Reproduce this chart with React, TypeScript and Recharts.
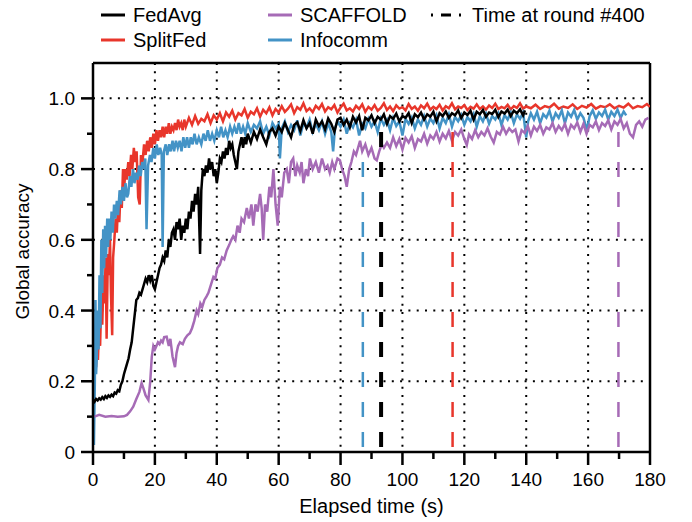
import React from 'react';
import { LineChart, Line, XAxis, YAxis, CartesianGrid, ReferenceLine, Label } from 'recharts';

// [elapsed time (s), global accuracy]
const fedAvg: [number, number][] = [
  [0, 0.148], [0.5, 0.142], [1, 0.15], [1.5, 0.146], [2, 0.152], [2.5, 0.148], [3, 0.155], [3.5, 0.15], [4, 0.158],
  [4.5, 0.153], [5, 0.16], [5.5, 0.156], [6, 0.162], [6.5, 0.158], [7, 0.168], [7.5, 0.165], [8, 0.175], [8.5, 0.172],
  [9, 0.19], [9.5, 0.2], [10, 0.22], [10.5, 0.235], [11, 0.25], [11.5, 0.265], [12, 0.29], [12.5, 0.31], [13, 0.35],
  [13.5, 0.39], [14, 0.43], [14.5, 0.435], [15, 0.45], [15.5, 0.445], [16, 0.46], [16.5, 0.475], [17, 0.49], [17.5, 0.48],
  [18, 0.5], [18.5, 0.485], [19, 0.5], [19.5, 0.47], [20, 0.46], [20.5, 0.48], [21, 0.5], [21.5, 0.52], [22, 0.53],
  [22.5, 0.55], [23, 0.54], [23.5, 0.57], [24, 0.55], [24.5, 0.6], [25, 0.58], [25.5, 0.62], [26, 0.63], [26.5, 0.6],
  [27, 0.65], [27.5, 0.63], [28, 0.66], [28.5, 0.6], [29, 0.64], [29.5, 0.62], [30, 0.66], [30.5, 0.63], [31, 0.68],
  [31.5, 0.66], [32, 0.71], [32.5, 0.68], [33, 0.73], [33.5, 0.7], [34, 0.75], [34.6, 0.56], [35, 0.74], [35.5, 0.8],
  [36, 0.78], [36.5, 0.81], [37, 0.79], [37.5, 0.83], [38, 0.8], [38.5, 0.82], [39, 0.78], [39.5, 0.8], [40, 0.76],
  [40.5, 0.79], [41, 0.83], [41.5, 0.82], [42, 0.85], [42.5, 0.83], [43, 0.86], [43.5, 0.84], [44, 0.88], [44.5, 0.86],
  [45, 0.87], [45.5, 0.84], [46, 0.82], [46.5, 0.8], [47, 0.85], [47.5, 0.87], [48, 0.89], [48.5, 0.86], [49, 0.89],
  [49.5, 0.87], [50, 0.9], [51, 0.875], [52, 0.905], [53, 0.885], [54, 0.912], [55, 0.89], [56, 0.87], [57, 0.905],
  [58, 0.915], [59, 0.895], [60, 0.92], [61, 0.905], [62, 0.93], [63, 0.91], [64, 0.89], [65, 0.925], [66, 0.932],
  [67, 0.908], [68, 0.938], [69, 0.915], [70, 0.93], [71, 0.9], [72, 0.94], [73, 0.922], [74, 0.935], [75, 0.912],
  [76, 0.943], [77, 0.928], [78, 0.905], [79, 0.94], [80, 0.945], [81, 0.925], [82, 0.94], [83, 0.918], [84, 0.948],
  [85, 0.932], [86, 0.95], [87, 0.91], [88, 0.945], [89, 0.938], [90, 0.952], [91, 0.93], [92, 0.948], [93, 0.94],
  [94, 0.955], [95, 0.928], [96, 0.95], [97, 0.942], [98, 0.957], [99, 0.935], [100, 0.95], [101, 0.945], [102, 0.958],
  [103, 0.93], [104, 0.955], [105, 0.947], [106, 0.96], [107, 0.94], [108, 0.955], [109, 0.948], [110, 0.962],
  [111, 0.935], [112, 0.958], [113, 0.95], [114, 0.963], [115, 0.945], [116, 0.958], [117, 0.952], [118, 0.966],
  [119, 0.944], [120, 0.96], [121, 0.953], [122, 0.965], [123, 0.94], [124, 0.962], [125, 0.955], [126, 0.967],
  [127, 0.948], [128, 0.96], [129, 0.956], [130, 0.968], [131, 0.947], [132, 0.963], [133, 0.957], [134, 0.968],
  [135, 0.95], [136, 0.965], [137, 0.958], [138, 0.969], [139, 0.952], [139.6, 0.966],
];

const splitFed: [number, number][] = [
  [1.0, 0.24], [1.3, 0.31], [1.6, 0.26], [2.0, 0.37], [2.3, 0.3], [2.7, 0.44], [3.0, 0.36], [3.4, 0.5], [3.7, 0.42],
  [4.1, 0.55], [4.4, 0.32], [4.8, 0.56], [5.1, 0.5], [5.5, 0.6], [5.8, 0.45], [6.2, 0.33], [6.5, 0.55], [6.9, 0.6],
  [7.3, 0.66], [7.7, 0.62], [8.1, 0.7], [8.5, 0.65], [8.9, 0.74], [9.3, 0.69], [9.7, 0.8], [10.1, 0.75], [10.5, 0.8],
  [10.9, 0.77], [11.4, 0.82], [11.8, 0.78], [12.3, 0.84], [12.7, 0.8], [13.2, 0.86], [13.6, 0.82], [14.1, 0.85],
  [14.6, 0.72], [15.1, 0.7], [15.5, 0.84], [16, 0.82], [16.5, 0.87], [17, 0.84], [17.5, 0.88], [18, 0.85], [18.5, 0.89],
  [19, 0.86], [19.5, 0.9], [20, 0.87], [20.5, 0.91], [21, 0.88], [21.5, 0.91], [22, 0.89], [22.5, 0.92], [23, 0.89],
  [23.5, 0.92], [24, 0.9], [24.5, 0.93], [25, 0.9], [25.5, 0.92], [26, 0.91], [26.5, 0.93], [27, 0.91], [27.5, 0.94],
  [28, 0.92], [28.5, 0.93], [29, 0.91], [29.5, 0.94], [30, 0.92], [31, 0.945], [32, 0.925], [33, 0.95], [34, 0.928],
  [35, 0.942], [36, 0.935], [37, 0.955], [38, 0.93], [39, 0.952], [40, 0.94], [41, 0.958], [42, 0.935], [43, 0.96],
  [44, 0.948], [45, 0.965], [46, 0.94], [47, 0.958], [48, 0.952], [49, 0.97], [50, 0.945], [51, 0.962], [52, 0.955],
  [53, 0.972], [54, 0.948], [55, 0.968], [56, 0.958], [57, 0.975], [58, 0.952], [59, 0.97], [60, 0.96], [61, 0.978],
  [62, 0.962], [63, 0.971], [64, 0.983], [65, 0.958], [66, 0.975], [67, 0.968], [68, 0.986], [69, 0.964], [70, 0.972],
  [71, 0.961], [72, 0.979], [73, 0.97], [74, 0.984], [75, 0.963], [76, 0.975], [77, 0.969], [78, 0.981], [79, 0.96],
  [80, 0.974], [81, 0.985], [82, 0.966], [83, 0.972], [84, 0.963], [85, 0.979], [86, 0.97], [87, 0.983], [88, 0.962],
  [89, 0.976], [90, 0.968], [91, 0.981], [92, 0.965], [93, 0.973], [94, 0.986], [95, 0.967], [96, 0.977], [97, 0.964],
  [98, 0.98], [99, 0.971], [100, 0.975], [101, 0.966], [102, 0.984], [103, 0.97], [104, 0.977], [105, 0.965],
  [106, 0.98], [107, 0.972], [108, 0.985], [109, 0.968], [110, 0.976], [111, 0.97], [112, 0.982], [113, 0.966],
  [114, 0.978], [115, 0.972], [116, 0.986], [117, 0.969], [118, 0.977], [119, 0.973], [120, 0.981], [121, 0.967],
  [122, 0.976], [123, 0.971], [124, 0.983], [125, 0.97], [126, 0.977], [127, 0.968], [128, 0.98], [129, 0.973],
  [130, 0.985], [131, 0.97], [132, 0.976], [133, 0.972], [134, 0.982], [135, 0.969], [136, 0.978], [137, 0.973],
  [138, 0.986], [139, 0.971], [140, 0.977], [141.5, 0.972], [143, 0.982], [144.5, 0.97], [146, 0.978], [147.5, 0.974],
  [149, 0.985], [150.5, 0.971], [152, 0.977], [153.5, 0.973], [155, 0.983], [156.5, 0.97], [158, 0.979], [159.5, 0.974],
  [161, 0.984], [162.5, 0.971], [164, 0.978], [165.5, 0.975], [167, 0.983], [168.5, 0.972], [170, 0.979],
  [171.5, 0.974], [173, 0.985], [174.5, 0.972], [176, 0.978], [177.5, 0.975], [179, 0.984], [180, 0.976],
];

const scaffold: [number, number][] = [
  [0.5, 0.1], [2, 0.105], [4, 0.1], [6, 0.102], [8, 0.1], [10, 0.101], [11, 0.105], [12, 0.115], [13, 0.128],
  [14, 0.15], [15, 0.17], [15.7, 0.195], [16.3, 0.18], [17, 0.16], [17.9, 0.147], [18.5, 0.2], [19, 0.27], [19.5, 0.3],
  [20, 0.29], [20.5, 0.3], [21, 0.31], [21.5, 0.305], [22, 0.315], [22.5, 0.31], [23, 0.325], [23.8, 0.326], [24.5, 0.3],
  [25, 0.32], [25.7, 0.27], [26.5, 0.24], [27, 0.28], [27.5, 0.3], [28.1, 0.31], [29, 0.305], [29.7, 0.32], [30.5, 0.33],
  [31.3, 0.336], [32, 0.35], [32.7, 0.37], [33.5, 0.4], [34, 0.39], [34.7, 0.42], [35.3, 0.41], [36, 0.43], [36.7, 0.44],
  [37.3, 0.45], [38, 0.47], [38.9, 0.495], [39.5, 0.49], [40.2, 0.52], [41, 0.53], [41.7, 0.55], [42.4, 0.545],
  [43.2, 0.57], [44, 0.585], [44.7, 0.6], [45.3, 0.61], [46, 0.6], [46.7, 0.64], [47.4, 0.62], [48, 0.66], [48.8, 0.65],
  [49.7, 0.69], [50.4, 0.66], [51.2, 0.7], [51.8, 0.64], [52.5, 0.7], [53.2, 0.68], [54, 0.73], [54.5, 0.69], [55, 0.6],
  [55.6, 0.7], [56.3, 0.68], [57, 0.75], [57.6, 0.72], [58.3, 0.8], [59, 0.7], [59.7, 0.64], [60.4, 0.75], [61, 0.72],
  [61.8, 0.79], [62.6, 0.8], [63.3, 0.76], [64, 0.82], [64.7, 0.83], [65.4, 0.78], [66, 0.81], [66.8, 0.79], [67.4, 0.82],
  [68, 0.76], [68.8, 0.8], [69.5, 0.78], [70.1, 0.83], [71, 0.8], [72, 0.82], [73, 0.79], [74, 0.83], [75, 0.8],
  [75.8, 0.81], [76.5, 0.79], [77.3, 0.82], [78, 0.8], [79, 0.83], [79.8, 0.825], [80.5, 0.8], [81.3, 0.78], [82, 0.75],
  [82.8, 0.8], [83.5, 0.82], [84.3, 0.85], [85, 0.84], [86.3, 0.88], [87, 0.85], [88, 0.87], [89, 0.84], [90, 0.86],
  [91, 0.83], [91.7, 0.825], [92.5, 0.85], [93.3, 0.87], [94, 0.86], [95, 0.875], [96, 0.86], [97, 0.89], [98, 0.865],
  [99, 0.885], [100, 0.855], [101, 0.888], [102, 0.875], [103, 0.893], [104, 0.86], [105, 0.885], [106, 0.878],
  [107, 0.9], [108, 0.872], [109, 0.895], [110, 0.885], [111, 0.905], [112, 0.878], [113, 0.9], [114, 0.887],
  [115, 0.908], [116, 0.88], [117, 0.905], [118, 0.895], [119, 0.912], [120, 0.885], [120.8, 0.868], [121.5, 0.898],
  [122.5, 0.885], [123.5, 0.91], [124.5, 0.89], [125.5, 0.905], [126.5, 0.895], [127.5, 0.915], [128.5, 0.892],
  [129.5, 0.875], [130.5, 0.905], [131.5, 0.898], [132.5, 0.92], [133.5, 0.9], [134.5, 0.915], [135.5, 0.905],
  [136.5, 0.912], [137.5, 0.878], [138.5, 0.91], [139.5, 0.902], [140.5, 0.922], [141.5, 0.895], [142.5, 0.92],
  [143.5, 0.908], [144.5, 0.925], [145.5, 0.9], [146.5, 0.918], [147.5, 0.912], [148.5, 0.93], [149.5, 0.905],
  [150.5, 0.922], [151.5, 0.91], [152.5, 0.928], [153.5, 0.9], [154.5, 0.925], [155.5, 0.915], [156.5, 0.932],
  [157.5, 0.905], [158.5, 0.928], [159.5, 0.9], [160.5, 0.925], [161.5, 0.918], [162.5, 0.935], [163.5, 0.91],
  [164.5, 0.93], [165.5, 0.922], [166.5, 0.938], [167.5, 0.912], [168.5, 0.935], [169.5, 0.925], [170.5, 0.942],
  [171.5, 0.915], [172.5, 0.93], [173.5, 0.9], [174.5, 0.89], [175.5, 0.925], [176.5, 0.935], [177.5, 0.92],
  [178.5, 0.94], [179.5, 0.945],
];

const infocomm: [number, number][] = [
  [0.3, 0.02], [0.6, 0.2], [0.8, 0.43], [1.0, 0.22], [1.2, 0.26], [1.5, 0.4], [1.8, 0.29], [2.1, 0.5], [2.4, 0.35],
  [2.7, 0.6], [3.0, 0.45], [3.3, 0.63], [3.6, 0.52], [3.9, 0.64], [4.2, 0.55], [4.6, 0.66], [4.9, 0.58], [5.2, 0.66],
  [5.6, 0.6], [6.0, 0.68], [6.4, 0.62], [6.8, 0.7], [7.2, 0.66], [7.7, 0.71], [8.1, 0.67], [8.6, 0.74], [9.0, 0.7],
  [9.5, 0.75], [10.0, 0.71], [10.5, 0.76], [11.0, 0.72], [11.4, 0.73], [11.9, 0.78], [12.4, 0.75], [12.9, 0.8],
  [13.4, 0.76], [13.9, 0.79], [14.4, 0.77], [14.9, 0.81], [15.4, 0.78], [15.9, 0.82], [16.4, 0.8], [16.9, 0.83],
  [17.3, 0.63], [17.8, 0.81], [18.4, 0.84], [18.9, 0.82], [19.5, 0.86], [20, 0.83], [20.6, 0.87], [21.1, 0.84],
  [21.7, 0.86], [22.2, 0.84], [22.5, 0.58], [22.9, 0.85], [23.5, 0.87], [24, 0.84], [24.6, 0.87], [25.1, 0.85],
  [25.7, 0.88], [26.2, 0.85], [26.8, 0.88], [27.4, 0.86], [28, 0.88], [28.6, 0.85], [29.2, 0.89], [29.8, 0.86],
  [30.4, 0.89], [31, 0.86], [31.6, 0.89], [32.2, 0.87], [32.8, 0.9], [33.5, 0.87], [34.2, 0.89], [35, 0.87], [35.7, 0.9],
  [36.4, 0.88], [37.1, 0.91], [37.8, 0.88], [38.5, 0.9], [39.2, 0.88], [40, 0.91], [40.7, 0.89], [41.4, 0.92],
  [42.1, 0.89], [42.8, 0.91], [43.5, 0.89], [44.3, 0.92], [45, 0.9], [45.7, 0.92], [46.4, 0.9], [47.1, 0.93], [47.8, 0.9],
  [48.5, 0.92], [49.2, 0.9], [50, 0.93], [51, 0.905], [52, 0.925], [53, 0.915], [54, 0.935], [55, 0.9], [56, 0.92],
  [57, 0.895], [58, 0.93], [59, 0.915], [60, 0.928], [60.4, 0.83], [61, 0.915], [62, 0.935], [63, 0.905], [64, 0.925],
  [65, 0.91], [66, 0.938], [67, 0.895], [68, 0.93], [69, 0.918], [70, 0.94], [71, 0.905], [72, 0.928], [73, 0.91],
  [74, 0.935], [75, 0.9], [76, 0.93], [77, 0.905], [77.6, 0.85], [78.2, 0.915], [79, 0.935], [80, 0.92], [81, 0.94],
  [82, 0.9], [83, 0.93], [84, 0.918], [85, 0.94], [86, 0.895], [87, 0.928], [88, 0.915], [89, 0.942], [90, 0.92],
  [91, 0.935], [92, 0.905], [93, 0.943], [94, 0.925], [95, 0.94], [96, 0.91], [97, 0.945], [98, 0.922], [99, 0.935],
  [100, 0.895], [101, 0.942], [102, 0.928], [103, 0.946], [104, 0.915], [105, 0.94], [106, 0.925], [107, 0.95],
  [108, 0.92], [109, 0.943], [110, 0.93], [111, 0.952], [112, 0.915], [113, 0.945], [114, 0.93], [115, 0.955],
  [116, 0.92], [117, 0.948], [118, 0.935], [119, 0.953], [120, 0.925], [121, 0.947], [122, 0.935], [123, 0.956],
  [124, 0.92], [125, 0.95], [126, 0.935], [127, 0.957], [128, 0.928], [129, 0.95], [130, 0.94], [131, 0.958],
  [132, 0.925], [133, 0.953], [134, 0.94], [135, 0.96], [136, 0.93], [137, 0.955], [138, 0.942], [139, 0.96],
  [140, 0.89], [140.6, 0.935], [141.5, 0.958], [142.5, 0.94], [143.5, 0.962], [144.5, 0.93], [145.5, 0.955],
  [146.5, 0.945], [147.5, 0.965], [148.5, 0.935], [149.5, 0.958], [150.5, 0.945], [151.5, 0.966], [152.5, 0.93],
  [153.5, 0.96], [154.5, 0.948], [155.5, 0.967], [156.5, 0.94], [157.5, 0.958], [158.5, 0.945], [159.6, 0.91],
  [160.5, 0.95], [161.5, 0.966], [162.5, 0.942], [163.5, 0.96], [164.5, 0.95], [165.5, 0.968], [166.5, 0.94],
  [167.5, 0.962], [168.5, 0.95], [169.5, 0.968], [170.5, 0.945], [171.5, 0.963], [172.3, 0.952],
];

// time at which each method reached round #400, and where the marker stops
const round400 = [
  { name: 'Infocomm', t: 87.2, top: 0.82 },
  { name: 'FedAvg', t: 93.1, top: 0.905 },
  { name: 'SplitFed', t: 116.2, top: 0.905 },
  { name: 'SCAFFOLD', t: 169.8, top: 0.905 },
];

const xTicks = [0, 10, 20, 30, 40, 50, 60, 70, 80, 90, 100, 110, 120, 130, 140, 150, 160, 170, 180];
const yTicks = [0, 0.1, 0.2, 0.3, 0.4, 0.5, 0.6, 0.7, 0.8, 0.9, 1.0, 1.1];
const xGrid = [20, 40, 60, 80, 100, 120, 140, 160];
const yGrid = [0.2, 0.4, 0.6, 0.8, 1.0];

const colors: Record<string, string> = {
  FedAvg: '#000000',
  SplitFed: '#E8362B',
  SCAFFOLD: '#A66BB6',
  Infocomm: '#4393C6',
};

const series = [
  { name: 'SplitFed', points: splitFed },
  { name: 'Infocomm', points: infocomm },
  { name: 'SCAFFOLD', points: scaffold },
  { name: 'FedAvg', points: fedAvg },
];

const FONT = '"Liberation Sans", Arial, sans-serif';

const XTick = (props: any) => {
  const { x, y, payload } = props;
  const major = payload.value % 20 === 0;
  return (
    <g>
      <line x1={x} y1={y} x2={x} y2={y + (major ? 13 : 7)} stroke="#000" strokeWidth={2.5} />
      {major && (
        <text x={x} y={y + 34} textAnchor="middle" fontSize={19} fontFamily={FONT} fill="#000">
          {payload.value}
        </text>
      )}
    </g>
  );
};

const YTick = (props: any) => {
  const { x, y, payload } = props;
  const tenth = Math.round(payload.value * 10);
  if (tenth > 10) return <g />;
  const major = tenth % 2 === 0;
  return (
    <g>
      <line x1={x - (major ? 12 : 6)} y1={y} x2={x} y2={y} stroke="#000" strokeWidth={2.5} />
      {major && (
        <text x={x - 18} y={y} dy={7} textAnchor="end" fontSize={19} fontFamily={FONT} fill="#000">
          {tenth === 0 ? '0' : payload.value.toFixed(1)}
        </text>
      )}
    </g>
  );
};

const XTitle = (props: any) => {
  const { viewBox } = props;
  return (
    <text x={viewBox.x + viewBox.width / 2} y={viewBox.y + 61} textAnchor="middle" fontSize={20} fontFamily={FONT} fill="#000">
      Elapsed time (s)
    </text>
  );
};

const YTitle = (props: any) => {
  const { viewBox } = props;
  const cx = 21;
  const cy = viewBox.y + viewBox.height / 2 - 6;
  return (
    <text x={cx} y={cy} transform={`rotate(-90 ${cx} ${cy})`} textAnchor="middle" fontSize={19} fontFamily={FONT} fill="#000">
      Global accuracy
    </text>
  );
};

const legendItems = [
  { name: 'FedAvg', col: 0, row: 0 },
  { name: 'SplitFed', col: 0, row: 1 },
  { name: 'SCAFFOLD', col: 1, row: 0 },
  { name: 'Infocomm', col: 1, row: 1 },
];

// drawn in page coordinates (the chart sits at the 8px body margin)
const LegendBox = () => {
  const colX = [101, 268];
  const rowY = [15, 40];
  return (
    <svg width={692} height={60} style={{ position: 'absolute', left: -8, top: -8 }}>
      {legendItems.map((it) => (
        <g key={it.name}>
          <line x1={colX[it.col]} x2={colX[it.col] + 24} y1={rowY[it.row]} y2={rowY[it.row]} stroke={colors[it.name]} strokeWidth={3} />
          <text x={colX[it.col] + 32} y={rowY[it.row] + 7} fontSize={20} fontFamily={FONT} fill="#000">
            {it.name}
          </text>
        </g>
      ))}
      <line x1={431} x2={463} y1={15} y2={15} stroke="#000" strokeWidth={3} strokeDasharray="2 8 10 8 2 40" />
      <text x={472} y={22} fontSize={20} fontFamily={FONT} fill="#000">
        Time at round #400
      </text>
    </svg>
  );
};

export default function App() {
  return (
    <div style={{ position: 'relative', width: 684, height: 514 }}>
      <LineChart width={684} height={514} margin={{ top: 55, right: 42, bottom: 0, left: 0 }}>
        <CartesianGrid
          horizontalValues={yGrid}
          verticalValues={xGrid}
          stroke="#000"
          strokeWidth={2}
          strokeDasharray="2 6.3"
        />
        <XAxis
          type="number"
          dataKey="t"
          domain={[0, 180]}
          ticks={xTicks}
          interval={0}
          allowDataOverflow
          height={70}
          tickSize={0}
          tickMargin={0}
          tickLine={false}
          tick={<XTick />}
          axisLine={{ stroke: '#000', strokeWidth: 2.5 }}
        >
          <Label content={<XTitle />} />
        </XAxis>
        <YAxis
          type="number"
          domain={[0, 1.1]}
          ticks={yTicks}
          interval={0}
          allowDataOverflow
          width={85}
          tickSize={0}
          tickMargin={0}
          tickLine={false}
          tick={<YTick />}
          axisLine={{ stroke: '#000', strokeWidth: 2.5 }}
        >
          <Label content={<YTitle />} />
        </YAxis>
        <ReferenceLine y={1.1} stroke="#000" strokeWidth={2.5} />
        <ReferenceLine x={180} stroke="#000" strokeWidth={2.5} />
        {series.map((s) => (
          <Line
            key={s.name}
            data={s.points.map(([t, acc]) => ({ t, acc }))}
            dataKey="acc"
            name={s.name}
            type="linear"
            stroke={colors[s.name]}
            strokeWidth={2.5}
            dot={false}
            activeDot={false}
            isAnimationActive={false}
          />
        ))}
        {round400.map((r) => (
          <ReferenceLine
            key={r.name}
            segment={[{ x: r.t, y: r.top }, { x: r.t, y: 0 }]}
            stroke={colors[r.name]}
            strokeWidth={r.name === 'FedAvg' ? 4 : 2.5}
            strokeDasharray="15 15"
          />
        ))}
      </LineChart>
      <LegendBox />
    </div>
  );
}
